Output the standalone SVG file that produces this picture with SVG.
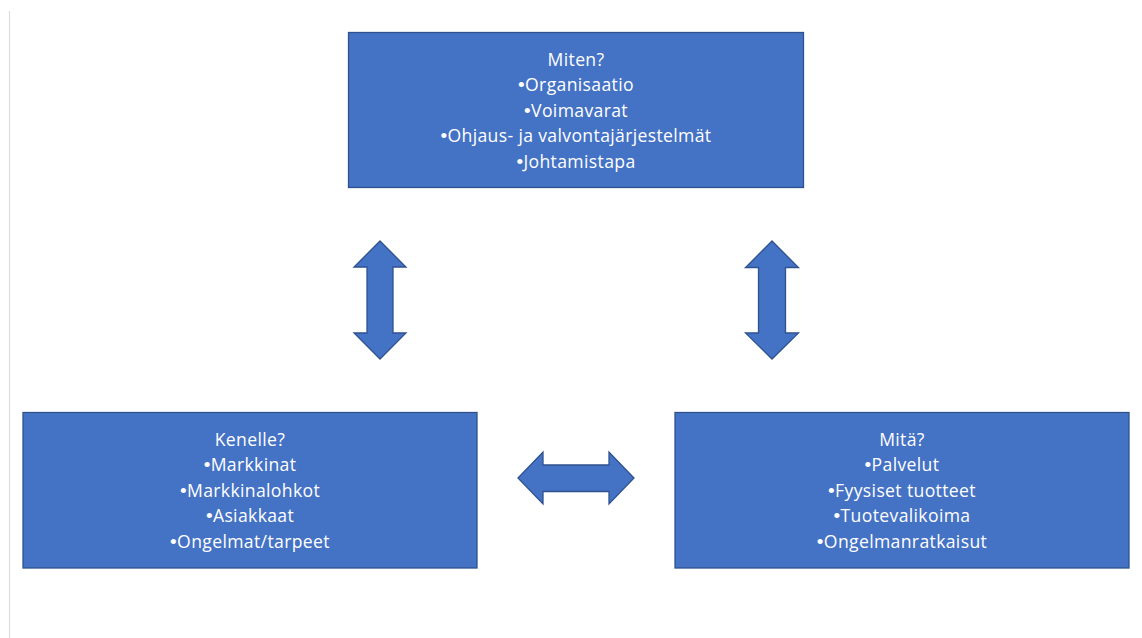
<svg xmlns="http://www.w3.org/2000/svg" width="1142" height="638" viewBox="0 0 1142 638">
<style>
.box{fill:#4472C4;stroke:#2F528F;stroke-width:1.3}
.arr{fill:#4472C4;stroke:#2F528F;stroke-width:1.3;stroke-linejoin:miter}
.t{font-family:"Open Sans","Liberation Sans",sans-serif;font-size:17.6px;font-weight:500;fill:#ffffff;text-anchor:middle;letter-spacing:0.35px}
.b{font-family:"Liberation Sans",sans-serif;font-size:19px}
</style>
<rect width="1142" height="638" fill="#ffffff"/>
<line x1="9.5" y1="11" x2="9.5" y2="638" stroke="#dcdcdc" stroke-width="1.2"/>
<g id="node-miten">
<rect class="box" x="348.5" y="32.5" width="455" height="155"/>
<text class="t" x="576" y="65.5">Miten?</text>
<text class="t" x="576" y="91"><tspan class="b">•</tspan>Organisaatio</text>
<text class="t" x="576" y="116.5"><tspan class="b">•</tspan>Voimavarat</text>
<text class="t" x="576" y="142"><tspan class="b">•</tspan>Ohjaus- ja valvontajärjestelmät</text>
<text class="t" x="576" y="167.5"><tspan class="b">•</tspan>Johtamistapa</text>
</g>
<g id="node-kenelle">
<rect class="box" x="23" y="412.5" width="454" height="155.5"/>
<text class="t" x="250" y="445.5">Kenelle?</text>
<text class="t" x="250" y="471"><tspan class="b">•</tspan>Markkinat</text>
<text class="t" x="250" y="496.5"><tspan class="b">•</tspan>Markkinalohkot</text>
<text class="t" x="250" y="522"><tspan class="b">•</tspan>Asiakkaat</text>
<text class="t" x="250" y="547.5"><tspan class="b">•</tspan>Ongelmat/tarpeet</text>
</g>
<g id="node-mita">
<rect class="box" x="675" y="412.5" width="454" height="155.5"/>
<text class="t" x="902" y="445.5">Mitä?</text>
<text class="t" x="902" y="471"><tspan class="b">•</tspan>Palvelut</text>
<text class="t" x="902" y="496.5"><tspan class="b">•</tspan>Fyysiset tuotteet</text>
<text class="t" x="902" y="522"><tspan class="b">•</tspan>Tuotevalikoima</text>
<text class="t" x="902" y="547.5"><tspan class="b">•</tspan>Ongelmanratkaisut</text>
</g>
<g id="connectors">
<polygon class="arr" points="380,241 406,267 393,267 393,333 406,333 380,359 354,333 367,333 367,267 354,267"/>
<polygon class="arr" points="772,241 798.5,267.5 785.5,267.5 785.5,333 798.5,333 772,359 745.5,333 758.5,333 758.5,267.5 745.5,267.5"/>
<polygon class="arr" points="518,478 543,452 543,465 609,465 609,452 634,478 609,504 609,491.5 543,491.5 543,504"/>
</g>
</svg>
